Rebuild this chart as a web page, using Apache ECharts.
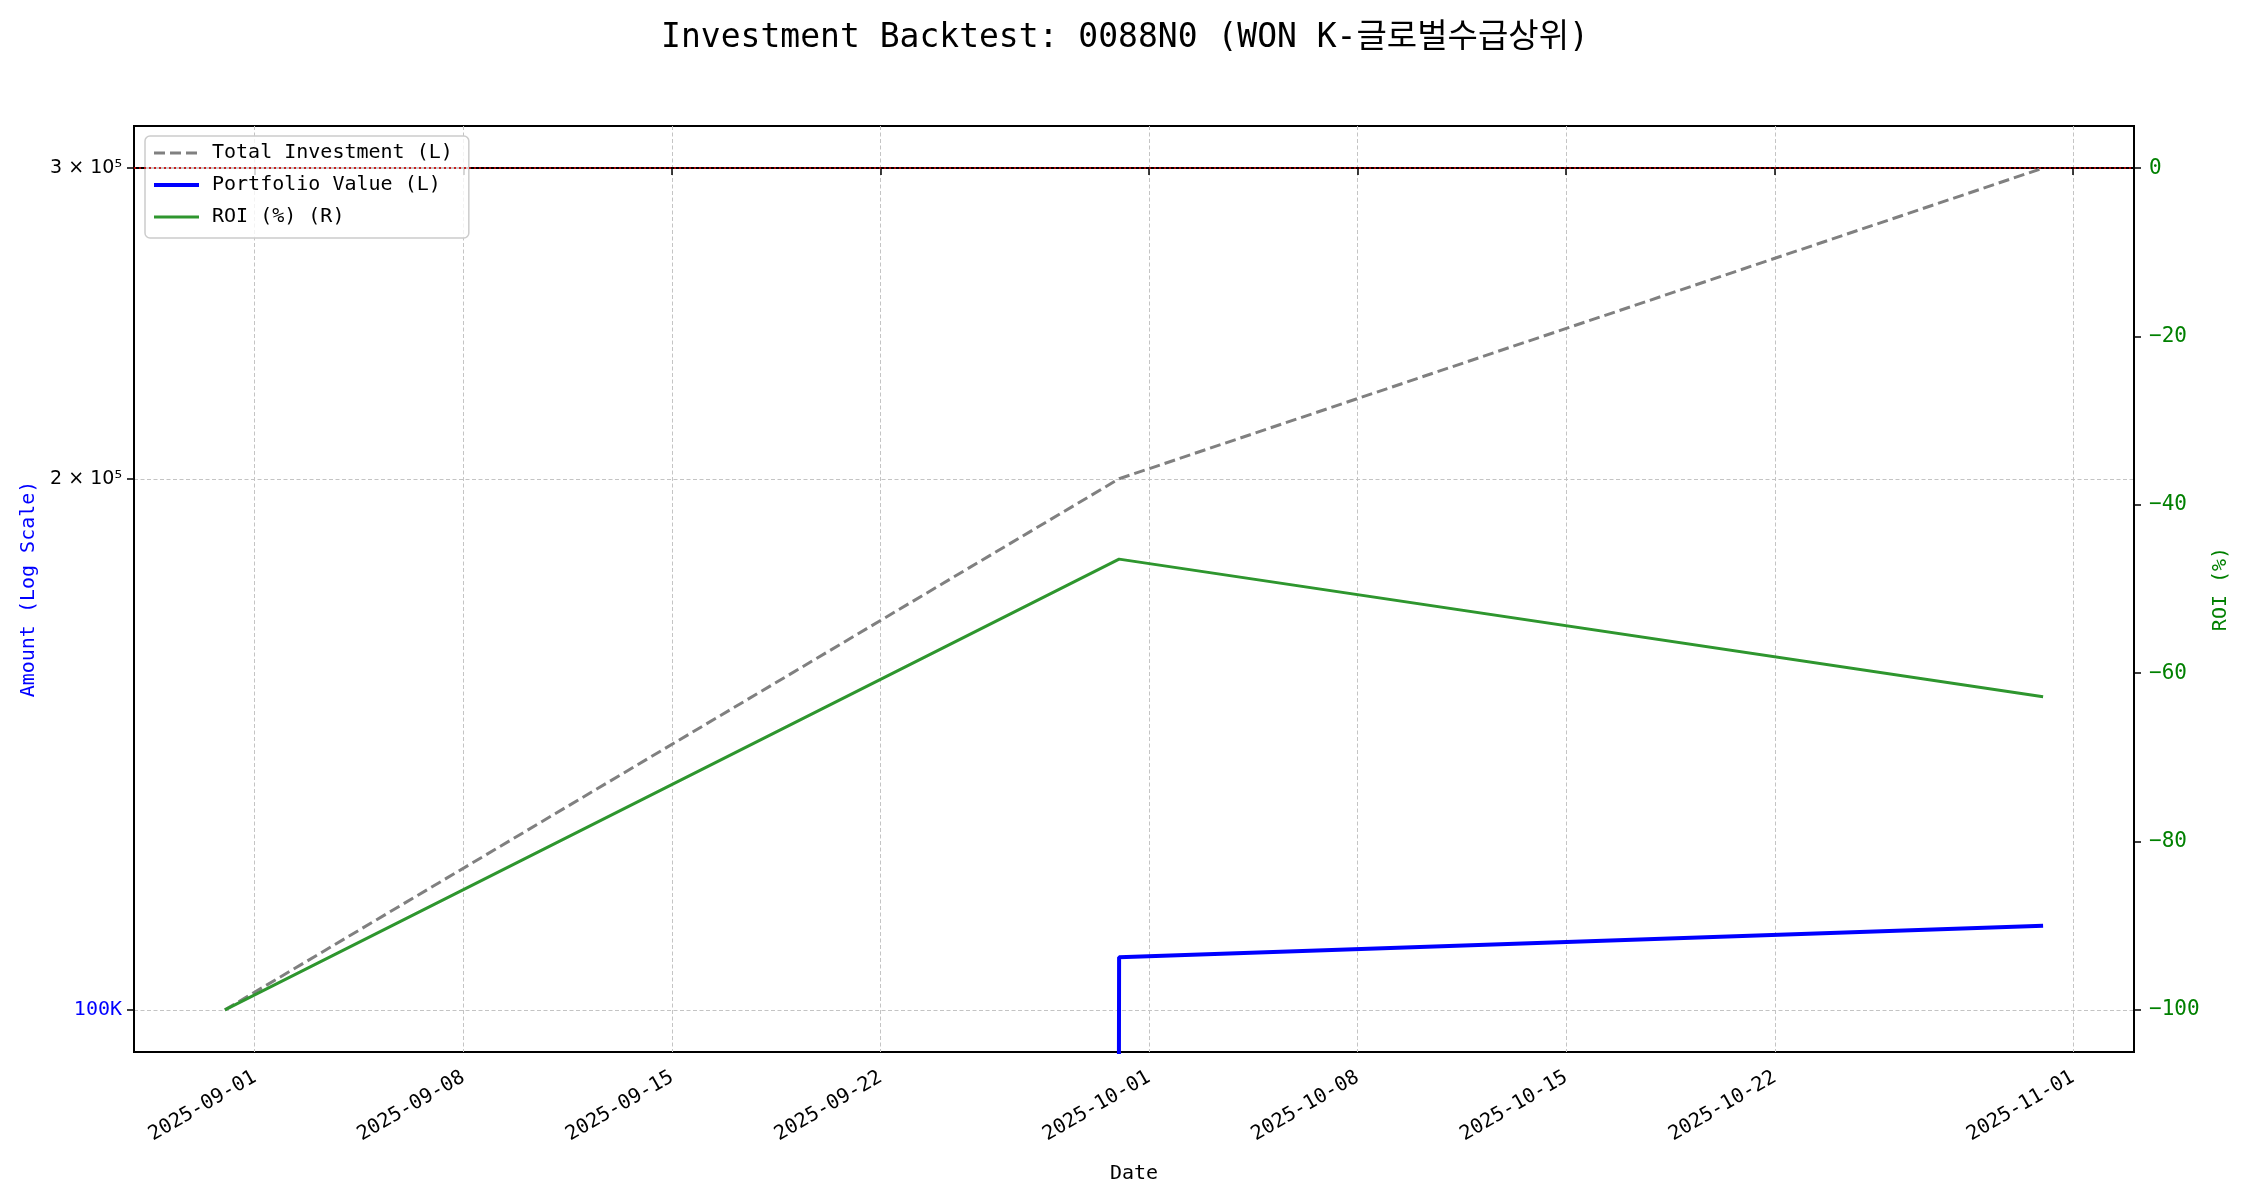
<!DOCTYPE html>
<html>
<head>
<meta charset="utf-8">
<script src="https://cdn.jsdelivr.net/npm/echarts@6/dist/echarts.min.js"></script>
<style>
  html, body { margin: 0; padding: 0; background: #fff; }
  #chart { width: 2250px; height: 1200px; }
</style>
</head>
<body>
<div id="chart"></div>
<script>
// data (month-end buys)
const dates = ['2025-08-31', '2025-09-30', '2025-10-31'];
const totalInvestment = [100000, 200000, 300000];
const portfolioValue = [0, 107100, 111600];
const roi = [-100, -46.45, -62.8];

const dateTicks = ['2025-09-01', '2025-09-08', '2025-09-15', '2025-09-22', '2025-10-01',
  '2025-10-08', '2025-10-15', '2025-10-22', '2025-11-01'];
const amountTicks = [100000, 200000, 300000];
const roiTicks = [-100, -80, -60, -40, -20, 0];

const MONO = 'DejaVu Sans Mono, Noto Sans CJK KR, monospace';
const ts = (s) => +new Date(s + 'T00:00:00');
const t0 = ts(dates[0]);
const t1 = ts(dates[dates.length - 1]);
const pad = (t1 - t0) * 0.05;
const dateTickValues = dateTicks.map(ts);

const gridLine = { show: true, lineStyle: { color: '#c4c4c4', type: [4, 2.5], width: 1 } };
const tick = { show: true, inside: false, length: 7, lineStyle: { color: '#000', width: 1.5 } };

// matplotlib clips non-positive values on a log axis to a tiny number
const toLog = (v) => (v > 0 ? v : 1e-300);

const fmtDate = (v) => {
  const d = new Date(v);
  const p = (n) => String(n).padStart(2, '0');
  return d.getFullYear() + '-' + p(d.getMonth() + 1) + '-' + p(d.getDate());
};

const chart = echarts.init(document.getElementById('chart'));
chart.setOption({
  animation: false,
  backgroundColor: '#fff',
  title: {
    text: 'Investment Backtest: 0088N0 (WON K-글로벌수급상위)',
    left: 'center',
    top: 17,
    textStyle: { fontFamily: MONO, fontSize: 33, fontWeight: 'normal', color: '#000' },
  },
  grid: {
    left: 134, right: 116, top: 126, bottom: 148,
    show: true, borderColor: '#000', borderWidth: 2, backgroundColor: 'transparent',
  },
  legend: {
    left: 145, top: 136,
    orient: 'vertical',
    itemWidth: 45, itemHeight: 14, itemGap: 10,
    padding: [6, 16, 10, 7],
    borderColor: '#cccccc', borderWidth: 1.5, borderRadius: 5,
    backgroundColor: 'rgba(255,255,255,0.8)',
    itemStyle: { opacity: 0, color: 'transparent', borderColor: 'transparent' },
    lineStyle: { width: 'inherit' },
    textStyle: { fontFamily: MONO, fontSize: 20, color: '#000', lineHeight: 22, padding: [0, 0, 0, 8] },
    data: ['Total Investment (L)', 'Portfolio Value (L)', 'ROI (%) (R)'],
  },
  xAxis: {
    type: 'value',
    min: t0 - pad,
    max: t1 + pad,
    name: 'Date',
    nameLocation: 'middle',
    nameGap: 112,
    nameTextStyle: { fontFamily: MONO, fontSize: 20, color: '#000' },
    axisLine: { show: true, lineStyle: { color: '#000', width: 2 } },
    axisTick: Object.assign({}, tick, { customValues: dateTickValues }),
    splitLine: gridLine,
    axisLabel: {
      customValues: dateTickValues,
      rotate: 30,
      margin: 24,
      fontFamily: MONO, fontSize: 20, color: '#000',
      formatter: fmtDate,
    },
  },
  yAxis: [
    {
      type: 'log',
      logBase: 10,
      min: 94650,
      max: 316940,
      name: 'Amount (Log Scale)',
      nameLocation: 'middle',
      nameRotate: 90,
      nameGap: 92,
      nameTextStyle: { fontFamily: MONO, fontSize: 20, color: '#0000ff' },
      axisLine: { show: true, lineStyle: { color: '#000', width: 2 } },
      axisTick: Object.assign({}, tick, { customValues: amountTicks }),
      splitLine: gridLine,
      axisLabel: {
        customValues: amountTicks,
        margin: 12,
        formatter: (v) => (Math.round(v) === 100000 ? '{b|100K}' : '{k|' + Math.round(v / 100000) + ' × 10⁵}'),
        rich: {
          b: { fontFamily: MONO, fontSize: 20, color: '#0000ff' },
          k: { fontFamily: 'DejaVu Sans', fontSize: 19, color: '#000' },
        },
      },
    },
    {
      type: 'value',
      position: 'right',
      min: -105,
      max: 5,
      name: 'ROI (%)',
      nameLocation: 'middle',
      nameRotate: 90,
      nameGap: 70,
      nameTextStyle: { fontFamily: MONO, fontSize: 20, color: 'green' },
      axisLine: { show: true, lineStyle: { color: '#000', width: 2 } },
      axisTick: Object.assign({}, tick, { customValues: roiTicks }),
      splitLine: { show: false },
      axisLabel: {
        customValues: roiTicks,
        margin: 15,
        fontFamily: MONO, fontSize: 21, color: 'green',
        formatter: (v) => (v < 0 ? '\u2212' + Math.abs(v) : String(v)),
      },
    },
  ],
  series: [
    {
      name: 'Total Investment (L)',
      type: 'line',
      yAxisIndex: 0,
      symbol: 'none',
      data: dates.map((d, i) => [ts(d), totalInvestment[i]]),
      lineStyle: { color: '#808080', width: 3, type: [11, 5] },
      itemStyle: { color: '#808080' },
      z: 3,
    },
    {
      name: 'Portfolio Value (L)',
      type: 'line',
      yAxisIndex: 0,
      symbol: 'none',
      data: dates.map((d, i) => [ts(d), toLog(portfolioValue[i])]),
      lineStyle: { color: '#0000ff', width: 4 },
      itemStyle: { color: '#0000ff' },
      z: 4,
    },
    {
      name: 'ROI (%) (R)',
      type: 'line',
      yAxisIndex: 1,
      symbol: 'none',
      data: dates.map((d, i) => [ts(d), roi[i]]),
      lineStyle: { color: '#2e962e', width: 3 },
      itemStyle: { color: '#2e962e' },
      z: 5,
      markLine: {
        silent: true,
        symbol: 'none',
        label: { show: false },
        lineStyle: { color: 'rgba(200,0,0,0.85)', type: [2, 3], width: 2 },
        data: [{ yAxis: 0 }],
      },
    },
  ],
});
</script>
</body>
</html>
